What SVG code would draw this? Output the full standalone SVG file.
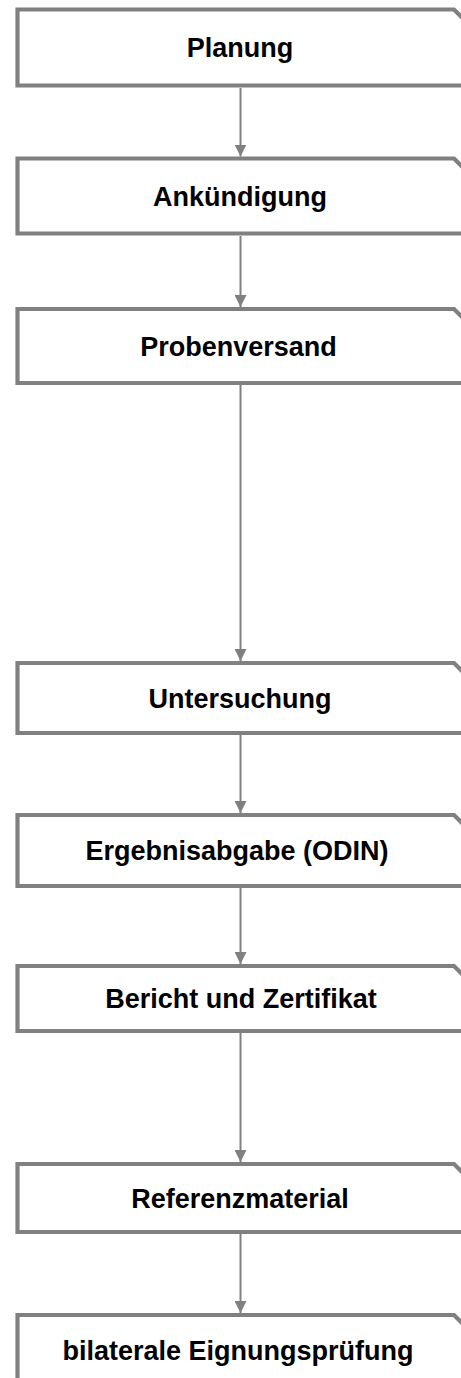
<svg xmlns="http://www.w3.org/2000/svg" width="461" height="1378" viewBox="0 0 461 1378">
<style>
.box{fill:#ffffff;stroke:#808080;stroke-width:4.2;stroke-linejoin:miter}
.lbl{font-family:"Liberation Sans",Arial,sans-serif;font-weight:bold;font-size:27px;fill:#000000;text-anchor:middle}
.conn{stroke:#808080;stroke-width:2;fill:none}
</style>
<defs>
<marker id="ah" markerUnits="userSpaceOnUse" markerWidth="12" markerHeight="12" refX="12" refY="6" orient="auto">
<path d="M0,0 L12,6 L0,12 Z" fill="#808080"/>
</marker>
</defs>
<rect width="461" height="1378" fill="#ffffff"/>
<g id="connectors">
<line class="conn" x1="240.5" y1="88" x2="240.5" y2="156.5" marker-end="url(#ah)"/>
<line class="conn" x1="240.5" y1="236" x2="240.5" y2="307" marker-end="url(#ah)"/>
<line class="conn" x1="240.5" y1="385" x2="240.5" y2="661" marker-end="url(#ah)"/>
<line class="conn" x1="240.5" y1="735" x2="240.5" y2="813" marker-end="url(#ah)"/>
<line class="conn" x1="240.5" y1="888" x2="240.5" y2="964" marker-end="url(#ah)"/>
<line class="conn" x1="240.5" y1="1033" x2="240.5" y2="1162" marker-end="url(#ah)"/>
<line class="conn" x1="240.5" y1="1234" x2="240.5" y2="1313" marker-end="url(#ah)"/>
</g>
<g id="n1">
<path class="box" d="M17.5,9.5 H454 L464,19.5 V85.5 H17.5 Z"/>
<text class="lbl" x="240" y="57">Planung</text>
</g>
<g id="n2">
<path class="box" d="M17.5,158.5 H454 L464,168.5 V233.5 H17.5 Z"/>
<text class="lbl" x="240" y="205.5">Ankündigung</text>
</g>
<g id="n3">
<path class="box" d="M17.5,309 H454 L464,319 V383 H17.5 Z"/>
<text class="lbl" x="238.5" y="355.5">Probenversand</text>
</g>
<g id="n4">
<path class="box" d="M17.5,663 H454 L464,673 V733 H17.5 Z"/>
<text class="lbl" x="240" y="707.5">Untersuchung</text>
</g>
<g id="n5">
<path class="box" d="M17.5,815 H454 L464,825 V886 H17.5 Z"/>
<text class="lbl" x="237" y="860">Ergebnisabgabe (ODIN)</text>
</g>
<g id="n6">
<path class="box" d="M17.5,966 H454 L464,976 V1031 H17.5 Z"/>
<text class="lbl" x="241" y="1008">Bericht und Zertifikat</text>
</g>
<g id="n7">
<path class="box" d="M17.5,1164 H454 L464,1174 V1232 H17.5 Z"/>
<text class="lbl" x="240" y="1207.5">Referenzmaterial</text>
</g>
<g id="n8">
<path class="box" d="M17.5,1315 H454 L464,1325 V1400 H17.5 Z"/>
<text class="lbl" x="238" y="1360">bilaterale Eignungsprüfung</text>
</g>
</svg>
